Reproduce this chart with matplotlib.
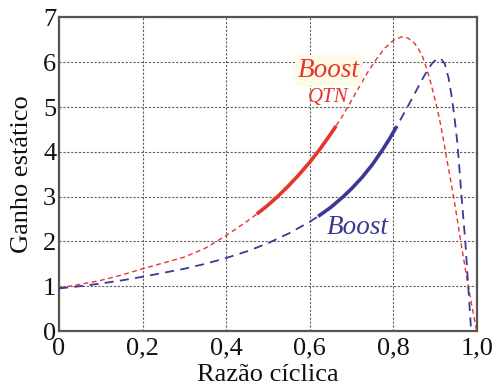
import matplotlib
matplotlib.use("Agg")
import matplotlib.pyplot as plt
from matplotlib import font_manager
import numpy as np

# Static gain vs duty cycle
d_qtn = [0.00, 0.05, 0.10, 0.15, 0.20, 0.25, 0.30, 0.35, 0.40, 0.45, 0.473,
         0.50, 0.525, 0.55, 0.575, 0.60, 0.625, 0.65, 0.663, 0.68, 0.70,
         0.72, 0.74, 0.76, 0.78, 0.80, 0.82, 0.835, 0.85, 0.86, 0.87, 0.88,
         0.89, 0.90, 0.91, 0.92, 0.93, 0.945, 0.961, 0.979, 0.999]
g_qtn = [0.96, 1.04, 1.13, 1.25, 1.39, 1.52, 1.65, 1.85, 2.13, 2.45, 2.61,
         2.81, 3.02, 3.25, 3.50, 3.77, 4.07, 4.40, 4.58, 4.83, 5.15,
         5.48, 5.80, 6.08, 6.32, 6.49, 6.57, 6.54, 6.43, 6.30, 6.12, 5.85,
         5.52, 5.15, 4.75, 4.25, 3.72, 2.95, 2.00, 1.00, 0.00]

d_boost = [0.00, 0.05, 0.10, 0.15, 0.20, 0.25, 0.30, 0.35, 0.40, 0.45, 0.50,
           0.55, 0.60, 0.62, 0.65, 0.68, 0.70, 0.725, 0.75, 0.775, 0.79,
           0.808, 0.83, 0.848, 0.865, 0.88, 0.893, 0.904, 0.914, 0.923,
           0.932, 0.94, 0.947, 0.953, 0.958, 0.963, 0.972, 0.979, 0.986]
g_boost = [0.95, 1.00, 1.06, 1.13, 1.21, 1.30, 1.39, 1.50, 1.63, 1.78, 1.96,
           2.18, 2.44, 2.56, 2.76, 3.00, 3.18, 3.43, 3.72, 4.06, 4.28,
           4.57, 4.94, 5.25, 5.55, 5.80, 5.98, 6.08, 6.08, 5.96,
           5.65, 5.20, 4.70, 4.20, 3.62, 3.00, 2.00, 1.00, 0.00]

# Duty-cycle ranges drawn as solid (operating region)
qtn_range = (0.473, 0.663)
boost_range = (0.62, 0.808)

x_ticks = [0, 0.2, 0.4, 0.6, 0.8, 1.0]
x_tick_labels = ["0", "0,2", "0,4", "0,6", "0,8", "1,0"]
y_ticks = [0, 1, 2, 3, 4, 5, 6, 7]

RED = "#e8342c"
BLUE = "#3a3a94"

installed = {f.name for f in font_manager.fontManager.ttflist}
serif_pref = [n for n in ("Liberation Serif", "Times New Roman", "Nimbus Roman",
                          "DejaVu Serif") if n in installed]
plt.rcParams["font.family"] = "serif"
plt.rcParams["font.serif"] = serif_pref + ["DejaVu Serif"]

fig = plt.figure(figsize=(4.94, 3.88), dpi=100)
ax = fig.add_axes([0.1194, 0.1469, 0.9656 - 0.1194, 0.9549 - 0.1469])


def segment(d, g, lo, hi):
    d = np.asarray(d)
    g = np.asarray(g)
    m = (d >= lo - 1e-9) & (d <= hi + 1e-9)
    return d[m], g[m]


# Full curves, dashed
ax.plot(d_qtn, g_qtn, color=RED, lw=1.0, dashes=(3.5, 2.5), zorder=3)
ax.plot(d_boost, g_boost, color=BLUE, lw=1.3, dashes=(5, 3.5), zorder=3)

# Operating regions, solid and thicker
xs, ys = segment(d_qtn, g_qtn, *qtn_range)
ax.plot(xs, ys, color=RED, lw=2.6, solid_capstyle="butt", zorder=4)
xs, ys = segment(d_boost, g_boost, *boost_range)
ax.plot(xs, ys, color=BLUE, lw=2.6, solid_capstyle="butt", zorder=4)

ax.set_xlim(0, 1.0)
ax.set_ylim(0, 7)
ax.set_xticks(x_ticks)
ax.set_xticklabels(x_tick_labels)
ax.set_yticks(y_ticks)
ax.tick_params(axis="both", length=0, labelsize=19, colors="#111111")
ax.tick_params(axis="x", pad=5)
ax.tick_params(axis="y", pad=2)

ax.grid(True, color="#5e5e5e", lw=0.8, dashes=(2, 1.5))
ax.set_axisbelow(True)
for side, sp in ax.spines.items():
    sp.set_color("#555555")
    sp.set_linewidth(1.6)

ax.set_xlabel("Razão cíclica", fontsize=19, labelpad=3, color="#111111")
ax.set_ylabel("Ganho estático", fontsize=19, labelpad=7, color="#111111")

ax.text(0.645, 5.82, "Boost", color=RED, fontsize=19.5, style="italic",
        ha="center", va="center", zorder=5,
        bbox=dict(boxstyle="square,pad=0.1", fc="#fdfbe8", ec="none"))
ax.text(0.645, 5.22, "QTN", color=RED, fontsize=15, style="italic",
        ha="center", va="center", zorder=5)
ax.text(0.715, 2.30, "Boost", color=BLUE, fontsize=19.5, style="italic",
        ha="center", va="center", zorder=5)

fig.savefig("out.png", dpi=100)
